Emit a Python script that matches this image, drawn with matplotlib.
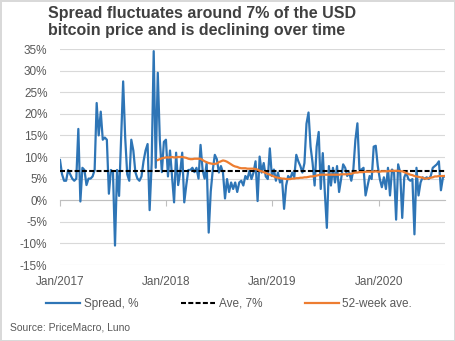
import matplotlib
matplotlib.use("Agg")
import matplotlib.pyplot as plt
import matplotlib.dates as mdates
import pandas as pd

plt.rcParams['font.family'] = ['Liberation Sans', 'DejaVu Sans']

# weekly spread, %, first week of Jan 2017 onwards
spread = [
    9.3, 6.0, 4.5, 4.5, 7.0, 6.0, 5.0, 4.5, 5.0, 16.5,
    -0.3, 7.5, 7.0, 3.5, 5.0, 5.0, 5.5, 7.0, 22.5, 15.0,
    20.5, 14.0, 14.5, 14.0, 1.5, 7.0, 6.5, -10.5, 7.0, 1.0,
    14.0, 27.5, 14.5, 6.0, 4.5, 14.0, 11.5, 6.5, 5.0, 4.5,
    5.5, 9.0, 11.5, 13.0, -2.3, 8.5, 34.5, 7.5, 29.5, 14.0,
    6.5, 13.5, 14.0, 5.5, 11.5, 5.5, -0.5, 11.0, 3.5, 6.5,
    11.0, -0.5, 3.5, 7.0, 7.0, 7.5, 6.5, 7.5, 5.0, 12.8,
    7.0, 5.0, 8.6, -7.5, 2.0, 7.0, 10.5, 9.5, 6.4, 7.9,
    6.4, 0.4, 4.9, 1.9, 4.1, 2.6, 4.1, 1.9, 4.1, 4.5,
    3.4, 5.6, 4.9, 6.8, 4.9, 6.4, 9.0, -0.2, 10.1, 6.4,
    8.6, 5.5, 4.9, 12.0, 5.6, 7.1, 4.5, 6.4, 4.1, 4.9,
    -2.0, 3.4, 5.6, 4.9, 6.4, 5.3, 10.5, 9.0, 7.9, 6.4,
    8.6, 17.7, 20.3, 12.4, 8.6, 3.4, 12.4, 15.8, 2.6, 10.9,
    1.9, -6.4, 7.9, 3.4, 7.5, 4.1, 7.9, 1.9, 4.9, 8.3,
    7.5, 5.6, 6.4, 4.5, 7.1, 13.9, 17.8, 7.0, 7.1, 7.5,
    1.1, 3.4, 5.6, 4.9, 12.4, 12.6, 7.9, 4.9, 3.0, 5.3,
    2.6, 7.5, 1.1, 7.1, 6.4, -4.5, 8.3, 6.4, -4.1, 5.3,
    6.4, 4.9, 4.5, 4.9, -7.9, 7.5, 1.1, 4.1, 5.3, 4.9,
    5.3, 4.9, 5.6, 7.5, 7.9, 8.3, 9.0, 2.3, 5.3, 5.6,
]

# 52-week average, starts at week 48
ma_start = 48
ma52 = [
    9.3, 9.5, 9.7, 9.8, 9.9, 9.9, 9.9, 10.0, 9.9, 9.9, 10.0, 10.0,
    10.0, 9.9, 9.8, 9.6, 9.5, 9.5, 9.6, 9.6, 9.6, 9.6,
    9.3, 9.0, 8.8, 8.6, 8.5, 8.4, 8.4, 8.5, 8.8, 9.0,
    9.2, 9.1, 8.9, 8.6, 8.3, 8.0, 7.8, 7.7, 7.5, 7.4,
    7.4, 7.4, 7.3, 7.3, 7.3, 7.3, 7.2, 7.1, 6.8, 6.7,
    6.5, 6.3, 6.1, 5.9, 5.7, 5.5, 5.3, 5.2, 5.1, 5.0,
    5.0, 4.9, 4.9, 4.9, 5.0, 5.0, 5.1, 5.1, 5.2, 5.2,
    5.3, 5.3, 5.4, 5.5, 5.5, 5.6, 5.7, 5.8, 5.9, 5.9,
    5.9, 5.9, 5.9, 5.9, 5.9, 5.9, 5.9, 5.9, 6.0, 6.0,
    6.0, 6.0, 6.1, 6.1, 6.3, 6.4, 6.4, 6.5, 6.5, 6.5,
    6.6, 6.6, 6.6, 6.6, 6.6, 6.7, 6.6, 6.6, 6.7, 6.7,
    6.7, 6.7, 6.8, 6.8, 6.8, 6.8, 6.8, 6.7, 6.7, 6.5,
    6.3, 6.1, 5.9, 5.8, 5.6, 5.5, 5.4, 5.3, 5.2, 5.0,
    5.0, 5.1, 5.2, 5.3, 5.5, 5.5, 5.6, 5.6, 5.6, 5.6,
]

ave_value = 6.8
labels = ["Spread, %", "Ave, 7%", "52-week ave."]
y_ticks = [-15, -10, -5, 0, 5, 10, 15, 20, 25, 30, 35]

dates = pd.date_range("2017-01-01", periods=len(spread), freq="7D")

BLUE = "#2E75B6"
ORANGE = "#ED7D31"
GRID = "#d9d9d9"
TXT = "#595959"

fig = plt.figure(figsize=(4.55, 3.41), dpi=100)
fig.patch.set_edgecolor(GRID)
fig.patch.set_linewidth(1.0)
ax = fig.add_axes([60 / 455, 1 - 265 / 341, 385 / 455, 216 / 341])

l1, = ax.plot(dates, spread, color=BLUE, lw=1.6, zorder=3, label=labels[0])
l2, = ax.plot(dates, [ave_value] * len(dates), color="black", lw=1.5,
              dashes=(2.4, 1.1), zorder=4, label=labels[1])
l3, = ax.plot(dates[ma_start:ma_start + len(ma52)], ma52, color=ORANGE, lw=1.6,
              zorder=5, label=labels[2])

ax.set_ylim(-15, 35)
ax.set_yticks(y_ticks)
ax.set_yticklabels([f"{v}%" for v in y_ticks])
ax.set_xlim(dates[0], dates[-1])
ax.xaxis.set_major_locator(mdates.YearLocator())
ax.xaxis.set_major_formatter(mdates.DateFormatter("%b/%Y"))

ax.grid(axis="y", color=GRID, lw=0.8)
ax.set_axisbelow(True)
for s in ["left", "right", "bottom"]:
    ax.spines[s].set_visible(False)
# axis line sits at 0%, tick labels stay at the bottom
ax.spines["top"].set_position(("data", 0))
ax.spines["top"].set_color("#bfbfbf")
ax.spines["top"].set_linewidth(0.8)
ax.tick_params(axis="x", top=True, bottom=False, labelbottom=True, labeltop=False,
               direction="in", length=4, width=0.8, color="#bfbfbf",
               labelsize=8.5, labelcolor=TXT, pad=8)
ax.tick_params(axis="y", length=0, labelsize=8.5, labelcolor=TXT, pad=9)

fig.text(48 / 455, 1 - 18 / 341, "Spread fluctuates around 7% of the USD",
         fontsize=11.5, fontweight="bold", color="#404040", va="baseline")
fig.text(48 / 455, 1 - 35 / 341, "bitcoin price and is declining over time",
         fontsize=11.5, fontweight="bold", color="#404040", va="baseline")

fig.legend(handles=[l1, l2, l3], loc="center", bbox_to_anchor=(229 / 455, 1 - 304 / 341),
           ncol=3, frameon=False, fontsize=8.5, labelcolor=TXT, handlelength=2.9,
           handletextpad=0.3, columnspacing=3.6)

fig.text(10 / 455, 1 - 331 / 341, "Source: PriceMacro, Luno", fontsize=7.5,
         color=TXT, va="baseline")

fig.savefig("out.png", dpi=100)
